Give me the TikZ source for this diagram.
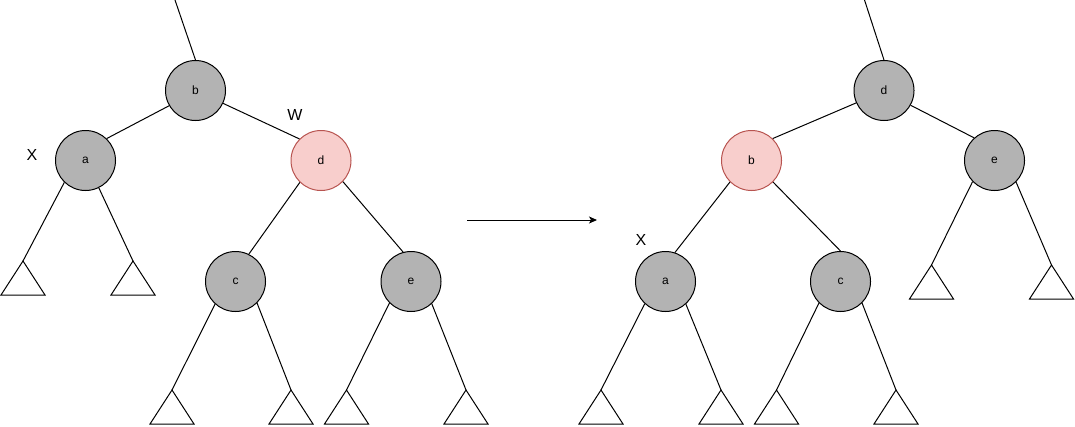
\documentclass[tikz,border=0pt]{standalone}
\usepackage{fontspec}
\setmainfont{Liberation Sans}
\usetikzlibrary{arrows.meta}
\definecolor{nodegray}{HTML}{B3B3B3}
\definecolor{redfill}{HTML}{F8CECC}
\definecolor{redline}{HTML}{B85450}
\newcommand{\leaf}[3]{\coordinate (#1) at (#2,#3); \draw (#1) -- ++(-22,34) -- ++(44,0) -- cycle;}
\begin{document}
\begin{tikzpicture}[x=1pt, y=-1pt, line width=1pt, main/.style = {circle, draw, fill=nodegray, minimum size=60pt, inner sep=0pt, font=\fontsize{12}{14}\selectfont}, redmain/.style = {main, draw=redline, fill=redfill}, tag/.style = {font=\fontsize{16}{19}\selectfont}]
\useasboundingbox (0,0) rectangle (1075,426);
% before
\node[main] (b1) at (195.5,90.5) {b};
\node[main] (a1) at (85.5,160.5) {a};
\node[redmain] (d1) at (321,160.5) {d};
\node[main] (c1) at (235.5,281.5) {c};
\node[main] (e1) at (411,281.5) {e};
\node[tag] (x1) at (32,155) {X};
\node[tag] (w1) at (295,115) {W};
\coordinate (top1) at (175,0);
\leaf{a1l}{23}{261} \leaf{a1r}{133}{261}
\leaf{c1l}{172}{390} \leaf{c1r}{291}{390}
\leaf{e1l}{346.5}{390} \leaf{e1r}{466}{390}
\draw (top1) -- (b1.north);
\draw (b1.210) -- (a1.46);
\draw (b1.335) -- (d1.135);
\draw (a1.226) -- (a1l);
\draw (a1.296) -- (a1r);
\draw (d1.226) -- (c1.64);
\draw (d1.316) -- (e1.105);
\draw (c1.228) -- (c1l);
\draw (c1.315) -- (c1r);
\draw (e1.225) -- (e1l);
\draw (e1.313) -- (e1r);
% rotation
\coordinate (s) at (467,220);
\coordinate (t) at (597,220);
\draw[-{Stealth[length=8pt, width=7pt, inset=2pt]}] (s) -- (t);
% after
\node[main] (d2) at (884,90.5) {d};
\node[redmain] (b2) at (751.5,160.5) {b};
\node[main] (e2) at (994.5,160.5) {e};
\node[main] (a2) at (665.5,281.5) {a};
\node[main] (c2) at (840.5,281.5) {c};
\node[tag] (x2) at (641,240) {X};
\coordinate (top2) at (864.5,0);
\leaf{e2l}{931.5}{265} \leaf{e2r}{1051.5}{265}
\leaf{a2l}{601}{390} \leaf{a2r}{721}{390}
\leaf{c2l}{776.5}{390} \leaf{c2r}{896}{390}
\draw (top2) -- (d2.north);
\draw (d2.204) -- (b2.46);
\draw (d2.331) -- (e2.132);
\draw (b2.225) -- (a2.72);
\draw (b2.315) -- (c2.north);
\draw (e2.224) -- (e2l);
\draw (e2.315) -- (e2r);
\draw (a2.227) -- (a2l);
\draw (a2.312) -- (a2r);
\draw (c2.225) -- (c2l);
\draw (c2.315) -- (c2r);
\end{tikzpicture}
\end{document}
